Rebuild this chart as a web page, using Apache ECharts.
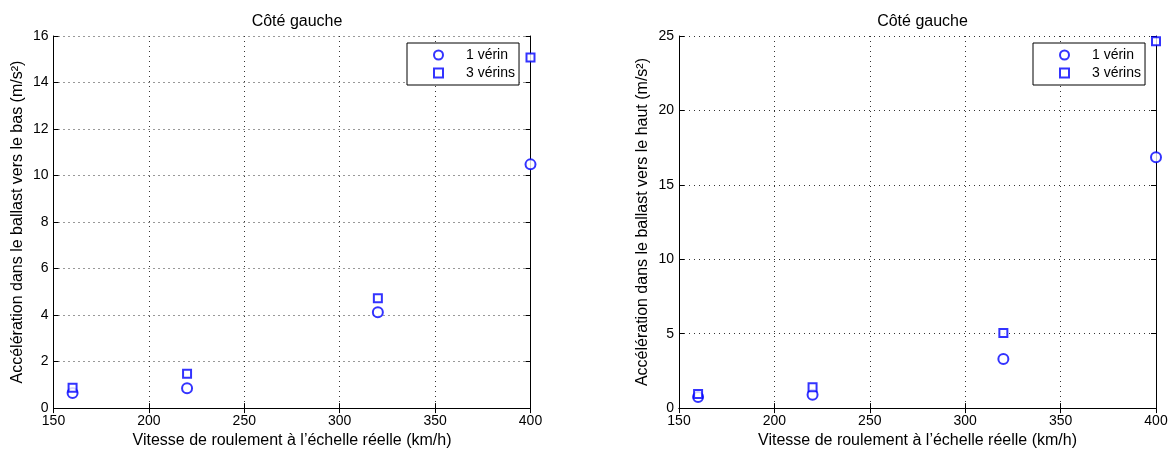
<!DOCTYPE html>
<html><head><meta charset="utf-8">
<script src="https://cdn.jsdelivr.net/npm/echarts@6/dist/echarts.min.js"></script>
<style>html,body{margin:0;padding:0;background:#fff}#c{width:1175px;height:454px}</style>
</head><body><div id="c"></div>
<script>
const speeds = [160, 220, 320, 400];
const basUn = [0.65, 0.85, 4.12, 10.48];
const basTrois = [0.88, 1.48, 4.72, 15.08];
const hautUn = [0.75, 0.9, 3.3, 16.85];
const hautTrois = [0.95, 1.4, 5.05, 24.65];
const titles = ['Côté gauche', 'Côté gauche'];
const xName = 'Vitesse de roulement à l\u2019échelle réelle (km/h)';
const yNames = ['Accélération dans le ballast vers le bas (m/s²)', 'Accélération dans le ballast vers le haut (m/s²)'];
const seriesNames = ['1 vérin', '3 vérins'];

const FONT = 'Liberation Sans, Arial, sans-serif';
const grids = [
  {left: 53.5, top: 36, width: 477, height: 377},
  {left: 679, top: 36, width: 477, height: 377}
];
const legendLeft = [407, 1033];
const yRanges = [{max: 16, interval: 2}, {max: 25, interval: 5}];
const pair = (xs, ys) => xs.map((x, i) => [x, ys[i]]);

const xAxes = [], yAxes = [], series = [], legends = [], titleArr = [];
grids.forEach((g, k) => {
  const common = {
    axisLine: {show: true, lineStyle: {color: '#000', width: 1}},
    axisTick: {show: true, inside: true, length: 5, lineStyle: {color: '#000'}},
  };
  const grid = {show: true, lineStyle: {color: '#333', type: [1, 4], width: 1}};
  xAxes.push(Object.assign({
    type: 'value', gridIndex: k, min: 150, max: 400, interval: 50, position: 'bottom',
    name: xName, nameLocation: 'middle', nameGap: 24,
    nameTextStyle: {fontFamily: FONT, fontSize: 16, color: '#000'},
    axisLabel: {fontFamily: FONT, fontSize: 14, color: '#000', margin: 6},
    splitLine: grid
  }, common));
  xAxes.push(Object.assign({
    type: 'value', gridIndex: k, min: 150, max: 400, interval: 50, position: 'top',
    axisLabel: {show: false}, splitLine: {show: false}
  }, common));
  yAxes.push(Object.assign({
    type: 'value', gridIndex: k, min: 0, max: yRanges[k].max, interval: yRanges[k].interval, position: 'left',
    name: yNames[k], nameLocation: 'middle', nameGap: 28,
    nameTextStyle: {fontFamily: FONT, fontSize: 16, color: '#000'},
    axisLabel: {fontFamily: FONT, fontSize: 14, color: '#000', margin: 5},
    splitLine: grid
  }, common));
  yAxes.push(Object.assign({
    type: 'value', gridIndex: k, min: 0, max: yRanges[k].max, interval: yRanges[k].interval, position: 'right',
    axisLabel: {show: false}, splitLine: {show: false}
  }, common));
  const d1 = k === 0 ? basUn : hautUn;
  const d3 = k === 0 ? basTrois : hautTrois;
  series.push({
    type: 'scatter', name: seriesNames[0], xAxisIndex: 2 * k, yAxisIndex: 2 * k,
    data: pair(speeds, d1), symbol: 'emptyCircle', symbolSize: 10,
    itemStyle: {color: '#0000ff', borderColor: '#0000ff', borderWidth: 1}
  });
  series.push({
    type: 'scatter', name: seriesNames[1], xAxisIndex: 2 * k, yAxisIndex: 2 * k,
    data: pair(speeds, d3), symbol: 'emptyRect', symbolSize: 8,
    itemStyle: {color: '#0000ff', borderColor: '#0000ff', borderWidth: 1}
  });
  titleArr.push({
    text: titles[k], left: g.left + g.width / 2, top: 9, textAlign: 'center',
    textStyle: {fontFamily: FONT, fontSize: 16, fontWeight: 'normal', color: '#000'}
  });
  legends.push({
    data: seriesNames, orient: 'vertical', left: legendLeft[k], top: 43,
    backgroundColor: '#fff', borderColor: '#000', borderWidth: 1, padding: [5, 4, 5, 26],
    itemGap: 4, itemWidth: 9, itemHeight: 9,
    textStyle: {fontFamily: FONT, fontSize: 14, color: '#000', padding: [0, 0, 0, 18]},
    selectedMode: false
  });
});

const chart = echarts.init(document.getElementById('c'), null, {renderer: 'canvas'});
chart.setOption({
  animation: false,
  backgroundColor: '#fff',
  title: titleArr,
  grid: grids.map(g => Object.assign({show: false}, g)),
  xAxis: xAxes, yAxis: yAxes, series: series, legend: legends
});
</script></body></html>
